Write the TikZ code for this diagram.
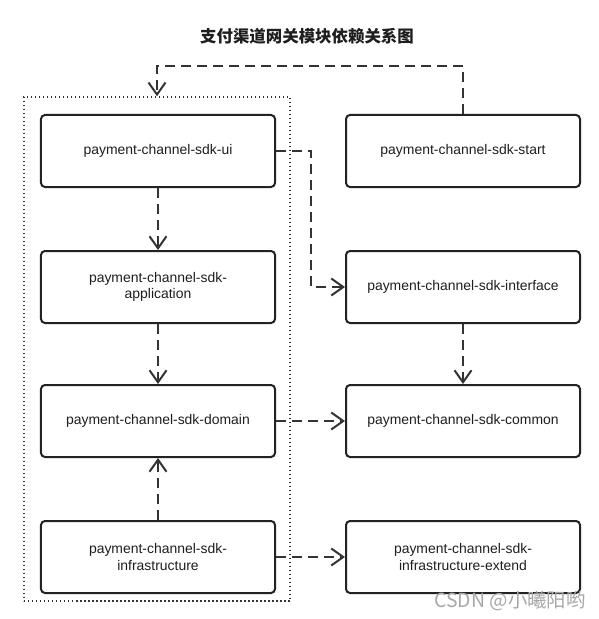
\documentclass[tikz,border=0pt]{standalone}
\usepackage{fontspec}
\setmainfont{Liberation Sans}
\newfontfamily\cjk{Noto Sans CJK SC}
\usetikzlibrary{arrows.meta}
\definecolor{ln}{HTML}{333333}
\definecolor{bx}{HTML}{222222}
\definecolor{txt}{HTML}{1E1E1E}
\definecolor{wm}{HTML}{A8A8A8}
\begin{document}
\begin{tikzpicture}[x=1bp, y=-1bp]
\tikzset{
  modbox/.style={draw=bx, line width=2bp, rounded corners=4bp, minimum width=234bp,
    minimum height=72bp, inner sep=0pt, align=center, text=txt,
    font=\fontsize{14}{16.5}\selectfont},
  dep/.style={draw=ln, line width=2bp, dash pattern=on 10bp off 6bp,
    -{Straight Barb[length=12bp, width=17bp, line width=2bp]}},
  group/.style={draw=ln, line width=1.5bp, dash pattern=on 1.5bp off 2.5bp,
    inner sep=0pt, minimum width=266bp, minimum height=504bp},
}
\useasboundingbox (0,0) rectangle (599,619);
\fill[white] (0,0) rectangle (599,619);

\node[text=txt, font=\cjk\bfseries\fontsize{16.5}{20}\selectfont] (title) at (307,36) {支付渠道网关模块依赖关系图};

\node[group] (grp) at (157,349) {};

\node[modbox] (ui) at (158,151) {payment-channel-sdk-ui};
\node[modbox] (app) at (158,287) {payment-channel-sdk-\\application};
\node[modbox] (dom) at (158,421) {payment-channel-sdk-domain};
\node[modbox] (infra) at (158,557) {payment-channel-sdk-\\infrastructure};

\node[modbox] (start) at (463,151) {payment-channel-sdk-start};
\node[modbox] (iface) at (463,287) {payment-channel-sdk-interface};
\node[modbox] (common) at (463,421) {payment-channel-sdk-common};
\node[modbox] (ext) at (463,557) {payment-channel-sdk-\\infrastructure-extend};

\draw[dep] (start.north) -- ++(0,-48) -| (grp.north);
\draw[dep] (ui.east) -- ++(35,0) |- (iface.west);
\draw[dep] (ui.south) -- (app.north);
\draw[dep] (app.south) -- (dom.north);
\draw[dep] (infra.north) -- (dom.south);
\draw[dep] (iface.south) -- (common.north);
\draw[dep] (dom.east) -- (common.west);
\draw[dep] (infra.east) -- (ext.west);

\node[anchor=east, text=wm, inner sep=0pt, font=\cjk\fontsize{19.5}{22}\selectfont] (wmark) at (586,601) {CSDN @小曦阳哟};
\end{tikzpicture}
\end{document}
